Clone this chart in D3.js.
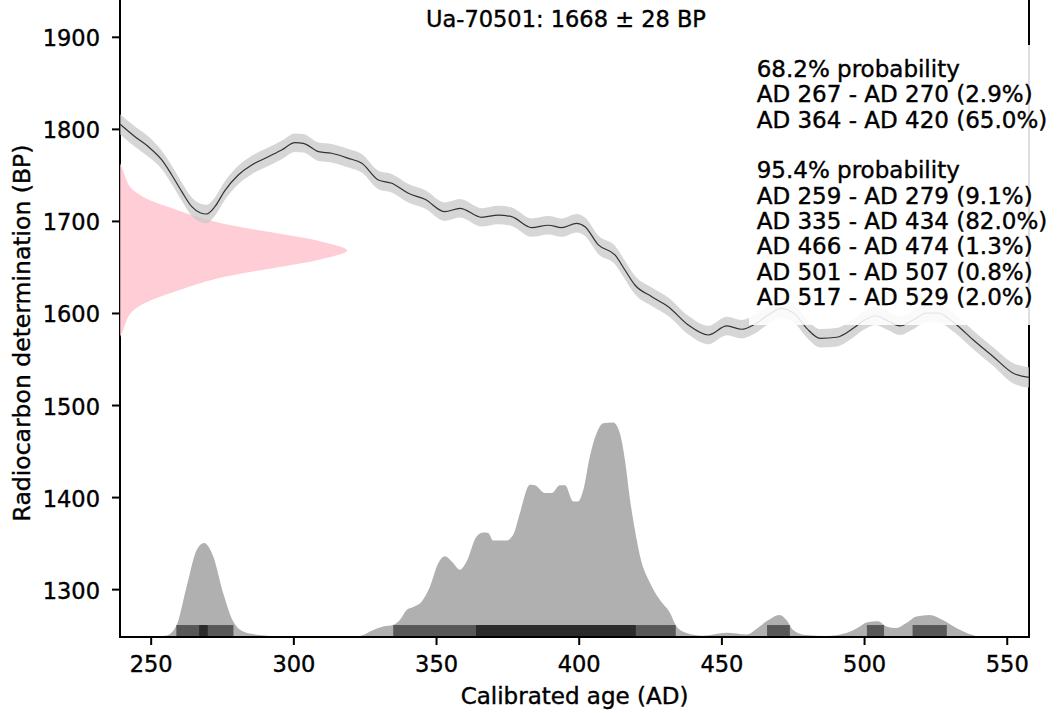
<!DOCTYPE html>
<html>
<head>
<meta charset="utf-8">
<script src="https://cdn.jsdelivr.net/npm/d3@7"></script>
<style>
body { margin: 0; background: #fff; }
svg { display: block; font-family: "DejaVu Sans", sans-serif; }
svg text { stroke: #000; stroke-width: 0.4px; }
</style>
</head>
<body>
<div id="chart"></div>
<script>
//Sample and its radiocarbon date
var sampleName = "Ua-70501";
var sampleBP = 1668;
var sampleErr = 28;

//Calibration curve (year AD, BP, 1 sigma)
var curveYears = [239.3, 244.5, 249.2, 253.9, 257.4, 260.9, 264.4, 267.3, 269.6, 272.5,
    276.0, 280.7, 285.4, 290.1, 295.9, 300.6, 303.5, 308.8, 313.4, 319.3,
    324.0, 329.8, 334.5, 340.3, 346.1, 353.1, 358.4, 366.0, 371.8, 376.5,
    383.5, 389.4, 394.0, 399.3, 402.2, 406.9, 412.7, 416.2, 419.7, 425.6,
    431.4, 438.4, 445.4, 451.9, 457.1, 461.2, 466, 471, 476, 480,
    484.6, 490.4, 496.2, 500, 504, 508, 512.6, 517, 522, 526,
    530, 532.5, 538.3, 545.3, 552.3, 557.8];
var curveBP = [1805, 1791.5, 1780.6, 1766.2, 1749.9, 1731.8, 1715.5, 1708.9, 1707.5, 1715.5,
    1733.0, 1749.9, 1760.8, 1768.0, 1777.1, 1785.0, 1784.3, 1775.2, 1773.5, 1768.0,
    1762.6, 1744.5, 1740.9, 1730.0, 1723.5, 1710.0, 1713.7, 1703.9, 1706.4, 1704.6,
    1692.7, 1695.3, 1692.7, 1697.4, 1693.7, 1673.9, 1663.0, 1646.7, 1630.4, 1617.7,
    1606.8, 1586.9, 1576.1, 1585.9, 1582.3, 1586.9, 1597, 1605, 1598, 1583,
    1572.5, 1573.6, 1583.4, 1592, 1597, 1592, 1586, 1592, 1600, 1600,
    1593, 1587, 1570.6, 1552.5, 1534.5, 1530];
var curveErr = [11, 11, 11, 10, 10, 10, 10, 10, 10, 10,
    10, 10, 10, 10, 10, 10, 10, 10, 10, 10,
    10, 10, 10, 10, 10, 10, 10, 10, 10, 10,
    10, 10, 10, 10, 10, 10, 10, 10, 10, 10,
    10, 10, 10, 10, 10, 10, 10, 10, 10, 10,
    10, 10, 10, 10, 10, 10, 10, 10, 10, 10,
    10, 10, 10, 10, 11, 11];

//Measured date density (pink shape on the left)
var pinkBP = [1763, 1755, 1737, 1726, 1712, 1699, 1692, 1685, 1678, 1668,
    1658, 1651, 1644, 1637, 1624, 1610, 1599, 1581, 1574];
var pinkDensity = [0, 0.013, 0.044, 0.103, 0.25, 0.42, 0.56, 0.73, 0.88, 1.0,
    0.88, 0.73, 0.56, 0.42, 0.25, 0.103, 0.044, 0.013, 0];

//Calibrated probability (relative to the peak)
var calYears = [239.3, 248, 252, 255.6, 259.1, 262.6, 266.1, 268.7, 271.9, 275.4,
    278.9, 282.4, 288.3, 295, 305, 318, 323.3, 328, 331.5, 335,
    337.3, 339.7, 342, 345, 347.9, 350.8, 353.1, 355.5, 358.4, 360.7,
    364.2, 366.6, 368.3, 370, 374.7, 377, 379.4, 382.9, 384.6, 388.2,
    390.5, 393.4, 395.2, 398.1, 399.8, 401.6, 403.9, 406.3, 408.6, 412.1,
    414.4, 416.2, 418, 419.7, 421.5, 425, 428.5, 432, 434.3, 437.8,
    443.6, 451.8, 458.8, 463.4, 465.8, 470.4, 472.8, 475.1, 479.8, 486.8,
    493.8, 498.5, 500.8, 504.9, 507.8, 511.3, 514.8, 518.3, 523, 527.6,
    532.3, 538.1, 541, 557.8];
var calProb = [0, 0, 0.002, 0.007, 0.056, 0.236, 0.405, 0.438, 0.376, 0.205,
    0.073, 0.026, 0.009, 0.002, 0, 0, 0.005, 0.033, 0.049, 0.056,
    0.079, 0.126, 0.14, 0.166, 0.236, 0.345, 0.376, 0.352, 0.314, 0.352,
    0.469, 0.487, 0.485, 0.45, 0.45, 0.475, 0.578, 0.71, 0.708, 0.671,
    0.671, 0.708, 0.708, 0.632, 0.632, 0.685, 0.842, 0.951, 0.997, 1.0,
    0.951, 0.825, 0.638, 0.499, 0.376, 0.252, 0.172, 0.112, 0.049, 0.019,
    0.006, 0.02, 0.012, 0.049, 0.073, 0.103, 0.079, 0.033, 0.009, 0.005,
    0.019, 0.049, 0.068, 0.073, 0.049, 0.042, 0.065, 0.096, 0.103, 0.079,
    0.042, 0.009, 0, 0];

//Highest density ranges
var range68 = [[267, 270], [364, 420]];
var pct68 = [2.9, 65.0];
var range95 = [[259, 279], [335, 434], [466, 474], [501, 507], [517, 529]];
var pct95 = [9.1, 82.0, 1.3, 0.8, 2.0];

//Tick labels
var xTicks = [250, 300, 350, 400, 450, 500, 550];
var yTicks = [1300, 1400, 1500, 1600, 1700, 1800, 1900];

function drawChart(){
    var w = 1058;
    var h = 713;
    var left = 120, right = 1029, top = 0, bottom = 637;

    var svg = d3.select("#chart")
        .append("svg")
        .attr("width", w)
        .attr("height", h);

    var x = d3.scaleLinear().domain([239.25, 557.8]).range([left, right]);
    var y = d3.scaleLinear().domain([1248, 1940]).range([bottom, top]);

    //spines (no top one)
    svg.append("line").attr("x1", left).attr("x2", left).attr("y1", top).attr("y2", bottom)
        .attr("stroke", "#000").attr("stroke-width", 2);
    svg.append("line").attr("x1", right).attr("x2", right).attr("y1", top).attr("y2", bottom)
        .attr("stroke", "#000").attr("stroke-width", 2);

    //pink measured date, drawn from the left axis
    var pink = pinkBP.map(function(d, i){ return {bp: d, p: pinkDensity[i]}; });
    var pinkWidth = 79.6; //years for density 1
    svg.append("path")
        .datum(pink)
        .attr("d", d3.area()
            .y(function(d){ return y(d.bp); })
            .x0(x(239.25))
            .x1(function(d){ return x(239.25 + d.p * pinkWidth); })
            .curve(d3.curveCatmullRom))
        .attr("fill", "#ffc0cb")
        .attr("fill-opacity", 0.8);

    //calibration curve band and line
    var curve = curveYears.map(function(d, i){
        return {yr: d, bp: curveBP[i], e: curveErr[i]};
    });
    svg.append("path")
        .datum(curve)
        .attr("d", d3.area()
            .x(function(d){ return x(d.yr); })
            .y0(function(d){ return y(d.bp - d.e); })
            .y1(function(d){ return y(d.bp + d.e); })
            .curve(d3.curveMonotoneX))
        .attr("fill", "#c8c8c8")
        .attr("fill-opacity", 0.75);
    svg.append("path")
        .datum(curve)
        .attr("d", d3.line()
            .x(function(d){ return x(d.yr); })
            .y(function(d){ return y(d.bp); })
            .curve(d3.curveMonotoneX))
        .attr("fill", "none")
        .attr("stroke", "#333")
        .attr("stroke-width", 1.2);

    //calibrated distribution at the bottom
    var base = 1248;
    var distHeight = 233; //BP units for relative probability 1
    var cal = calYears.map(function(d, i){ return {yr: d, p: calProb[i]}; });
    svg.append("path")
        .datum(cal)
        .attr("d", d3.area()
            .x(function(d){ return x(d.yr); })
            .y0(y(base))
            .y1(function(d){ return y(base + d.p * distHeight); })
            .curve(d3.curveMonotoneX))
        .attr("fill", "#b0b0b0");

    //range bars
    var barH = 13;
    svg.selectAll("rect.r95")
        .data(range95)
        .enter()
        .append("rect")
        .attr("class", "r95")
        .attr("x", function(d){ return x(d[0]); })
        .attr("width", function(d){ return x(d[1]) - x(d[0]); })
        .attr("y", y(base + barH))
        .attr("height", y(base) - y(base + barH))
        .attr("fill", "#585858");
    svg.selectAll("rect.r68")
        .data(range68)
        .enter()
        .append("rect")
        .attr("class", "r68")
        .attr("x", function(d){ return x(d[0]); })
        .attr("width", function(d){ return x(d[1]) - x(d[0]); })
        .attr("y", y(base + barH))
        .attr("height", y(base) - y(base + barH))
        .attr("fill", "#2b2b2b");

    //bottom spine
    svg.append("line").attr("x1", left - 1).attr("x2", right + 1).attr("y1", bottom).attr("y2", bottom)
        .attr("stroke", "#000").attr("stroke-width", 2);

    //axes
    var xAxis = svg.append("g")
        .attr("transform", "translate(0," + bottom + ")")
        .call(d3.axisBottom(x).tickValues(xTicks).tickSize(8).tickFormat(d3.format("d")));
    xAxis.select(".domain").remove();
    xAxis.selectAll("line").attr("stroke", "#000").attr("stroke-width", 2);
    xAxis.selectAll("text")
        .attr("y", 34.7).attr("dy", 0)
        .attr("fill", "#000")
        .style("font-size", "22.5px")
        .style("font-family", "DejaVu Sans");

    var yAxis = svg.append("g")
        .attr("transform", "translate(" + left + ",0)")
        .call(d3.axisLeft(y).tickValues(yTicks).tickSize(8).tickPadding(12).tickFormat(d3.format("d")));
    yAxis.select(".domain").remove();
    yAxis.selectAll("line").attr("stroke", "#000").attr("stroke-width", 2);
    yAxis.selectAll("text")
        .attr("dy", "0.4em")
        .attr("fill", "#000")
        .style("font-size", "22.5px")
        .style("font-family", "DejaVu Sans");

    //axis labels
    svg.append("text")
        .attr("x", (left + right) / 2)
        .attr("y", 704)
        .attr("text-anchor", "middle")
        .style("font-size", "23px")
        .text("Calibrated age (AD)");
    svg.append("text")
        .attr("transform", "translate(30,333) rotate(-90)")
        .attr("text-anchor", "middle")
        .style("font-size", "23.5px")
        .text("Radiocarbon determination (BP)");

    //title inside the plot
    svg.append("text")
        .attr("x", 566)
        .attr("y", 27)
        .attr("text-anchor", "middle")
        .style("font-size", "22.5px")
        .text(sampleName + ": " + sampleBP + " \u00b1 " + sampleErr + " BP");

    //ranges text box
    var lines = ["68.2% probability"];
    range68.forEach(function(r, i){
        lines.push("AD " + r[0] + " - AD " + r[1] + " (" + pct68[i].toFixed(1) + "%)");
    });
    lines.push("");
    lines.push("95.4% probability");
    range95.forEach(function(r, i){
        lines.push("AD " + r[0] + " - AD " + r[1] + " (" + pct95[i].toFixed(1) + "%)");
    });

    svg.append("rect")
        .attr("x", 749).attr("y", 45)
        .attr("width", 309).attr("height", 280)
        .attr("fill", "#fff")
        .attr("fill-opacity", 0.87);
    svg.selectAll("text.box")
        .data(lines)
        .enter()
        .append("text")
        .attr("class", "box")
        .attr("x", 756.7)
        .attr("y", function(d, i){ return 77 + i * 25.35; })
        .style("font-size", "23px")
        .text(function(d){ return d; });
}

window.onload = function(){
    drawChart();
};
</script>
</body>
</html>
